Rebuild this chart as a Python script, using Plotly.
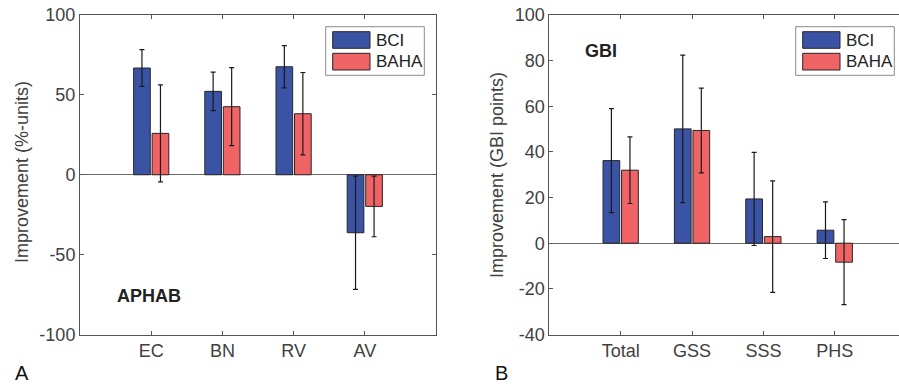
import plotly.graph_objects as go

W, H = 899, 385

# ---- data ----
aphab_categories = ["EC", "BN", "RV", "AV"]
aphab_bci = [66.8, 52.2, 67.6, -36.3]
aphab_bci_err = [11.5, 12.0, 13.2, 35.4]
aphab_baha = [25.9, 42.6, 38.2, -19.8]
aphab_baha_err = [30.3, 24.4, 25.8, 19.0]

gbi_categories = ["Total", "GSS", "SSS", "PHS"]
gbi_bci = [36.2, 50.1, 19.4, 5.7]
gbi_bci_err = [22.8, 32.3, 20.4, 12.4]
gbi_baha = [32.0, 49.4, 2.9, -8.3]
gbi_baha_err = [14.6, 18.6, 24.4, 18.6]

series_names = ["BCI", "BAHA"]
aphab_yticks = [-100, -50, 0, 50, 100]
gbi_yticks = [-40, -20, 0, 20, 40, 60, 80, 100]

# ---- style ----
BLUE = "#3A53A4"
RED = "#F06466"
EDGE = "#262626"
AXC = "#555555"
TXT = "#404040"
FONT = "Liberation Sans, Arial, Helvetica, sans-serif"


def px(x):
    return x / W


def py(y):
    return 1 - y / H


fig = go.Figure()


def add_bars(xa, ya, cats, v1, e1, v2, e2):
    for name, vals, errs, col in [(series_names[0], v1, e1, BLUE), (series_names[1], v2, e2, RED)]:
        fig.add_trace(go.Bar(
            x=cats, y=vals, name=name, xaxis=xa, yaxis=ya, showlegend=False,
            marker=dict(color=col, line=dict(color=EDGE, width=1)),
            error_y=dict(type="data", array=errs, visible=True, color="#1a1a1a", thickness=1.2, width=2.5),
        ))


add_bars("x", "y", aphab_categories, aphab_bci, aphab_bci_err, aphab_baha, aphab_baha_err)
add_bars("x2", "y2", gbi_categories, gbi_bci, gbi_bci_err, gbi_baha, gbi_baha_err)

ydom = [py(334.5), py(15)]
common_ax = dict(showline=True, linecolor=AXC, linewidth=1, ticks="inside", ticklen=4,
                 tickcolor=AXC, tickfont=dict(family=FONT, size=18, color=TXT), showgrid=False,
                 automargin=False)

fig.update_layout(
    width=W, height=H,
    margin=dict(l=0, r=0, t=0, b=0, autoexpand=False),
    paper_bgcolor="white", plot_bgcolor="white",
    barmode="group", bargap=0.48, bargroupgap=0.1,
    font=dict(family=FONT, color=TXT),
    xaxis=dict(domain=[px(80), px(436)], anchor="y", type="category",
               range=[-1, 4], mirror="ticks", **common_ax),
    yaxis=dict(domain=ydom, anchor="x", range=[-100, 100], tickvals=aphab_yticks,
               ticktext=[str(v) for v in aphab_yticks],
               mirror="ticks", zeroline=True, zerolinecolor="#6a6a6a", zerolinewidth=1, **common_ax),
    xaxis2=dict(domain=[px(549.3), 1.0], anchor="y2", type="category",
                range=[-1, 3.9], mirror="ticks", **common_ax),
    yaxis2=dict(domain=ydom, anchor="x2", range=[-40, 100], tickvals=gbi_yticks,
                ticktext=[str(v) for v in gbi_yticks],
                mirror=False, zeroline=True, zerolinecolor="#6a6a6a", zerolinewidth=1, **common_ax),
)

annotations = [
    dict(x=px(22), y=py(172), text="Improvement (%-units)", textangle=-90, font=dict(size=18, color=TXT)),
    dict(x=px(497), y=py(175), text="Improvement (GBI points)", textangle=-90, font=dict(size=18, color=TXT)),
    dict(x=px(149), y=py(296), text="<b>APHAB</b>", font=dict(size=18, color="#222222")),
    dict(x=px(601), y=py(51), text="<b>GBI</b>", font=dict(size=18, color="#222222")),
    dict(x=px(22), y=py(373), text="A", font=dict(size=20, color="#111111")),
    dict(x=px(502), y=py(373), text="B", font=dict(size=20, color="#111111")),
]

shapes = []
# manual legends (box, swatches, labels)
for bx in [325.7, 795.7]:
    shapes.append(dict(type="rect", xref="paper", yref="paper", x0=px(bx), x1=px(bx + 98.6),
                       y0=py(75.3), y1=py(26.7), line=dict(color="#8a8a8a", width=1), fillcolor="white"))
    sx = bx + 7
    for (y0, y1, col, name) in [(31.7, 48.3, BLUE, series_names[0]), (53.3, 70.0, RED, series_names[1])]:
        shapes.append(dict(type="rect", xref="paper", yref="paper", x0=px(sx), x1=px(sx + 37.3),
                           y0=py(y1), y1=py(y0), line=dict(color=EDGE, width=1), fillcolor=col))
        annotations.append(dict(x=px(sx + 41.5), y=py((y0 + y1) / 2), text=name, xanchor="left",
                                font=dict(size=17, color="#222222")))

for a in annotations:
    a.setdefault("xref", "paper")
    a.setdefault("yref", "paper")
    a.setdefault("showarrow", False)
    a.setdefault("xanchor", "center")
    a.setdefault("yanchor", "middle")
    a["font"]["family"] = FONT

fig.update_layout(annotations=annotations, shapes=shapes)
fig.write_html("out.html", config={"displayModeBar": False},
               post_script="document.body.style.margin='0';document.body.style.overflow='hidden';")
